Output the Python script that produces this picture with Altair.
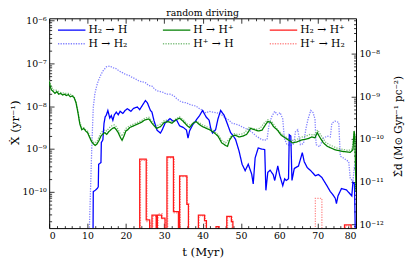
import altair as alt
import pandas as pd

W, H = 313, 214
FONT = "DejaVu Serif"

# legend is filled column by column: (H2->H, H->H2), (H->H+, H+->H), (H2->H+, H+->H2)
SERIES = ["H₂ → H", "H → H₂", "H → H⁺", "H⁺ → H", "H₂ → H⁺", "H⁺ → H₂"]
COLORS = ["#0000ff", "#8080ff", "#007f00", "#80c080", "#ff1a1a", "#ff8c8c"]
DASHES = [[1, 0], [1.3, 1.3], [1, 0], [1.3, 1.3], [1, 0], [1.3, 1.3]]

# time (Myr) and log10 of rate (yr^-1)
h2_h_t = [11.4, 11.5, 12.0, 12.5, 12.8, 12.9, 13.5, 13.6, 14.0, 14.3, 14.6, 14.9, 15.3, 15.8, 16.2, 16.6, 17.0, 17.5,
          18.0, 18.5, 19.2, 19.8, 20.4, 21.3, 22.0, 23.0, 23.6, 24.3, 25.1, 25.6, 26.4, 26.8, 27.3, 28.1, 29.0, 29.5,
          30.2, 30.8, 31.5, 32.4, 33.2, 34.0, 35.0, 35.8, 36.2, 36.6, 37.4, 38.3, 39.2, 40.0, 40.9, 41.7, 42.2, 42.6,
          43.4, 44.0, 44.7, 45.6, 46.4, 47.3, 48.1, 48.6, 49.5, 50.3, 51.1, 51.9, 52.8, 53.2, 53.7, 54.5, 55.3, 56.2,
          56.5, 57.0, 57.6, 58.4, 58.8, 59.6, 60.1, 60.9, 61.4, 61.8, 62.4, 62.6, 63.0, 63.3, 63.9, 65.0, 66.0, 66.5,
          67.3, 68.2, 69.4, 70.2, 71.1, 72.4, 73.3, 74.1, 74.6, 74.9, 75.3, 76.2, 77.5, 78.4, 78.9, 79.2, 79.6, 79.9]
h2_h_e = [-11.5, -10.0, -9.97, -9.93, -9.89, -9.36, -9.32, -8.85, -8.79, -8.40, -8.25, -8.21, -8.10, -8.28, -8.22,
          -8.33, -8.20, -8.14, -8.20, -8.12, -8.17, -8.10, -8.06, -8.12, -8.05, -8.02, -8.08, -7.98, -7.87, -7.92,
          -8.10, -8.14, -8.33, -8.56, -8.63, -8.55, -8.40, -8.35, -8.29, -8.36, -8.32, -8.46, -8.50, -8.56, -8.75,
          -8.58, -8.44, -8.33, -8.22, -8.10, -8.25, -8.33, -8.55, -8.63, -8.55, -8.30, -8.10, -8.21, -8.40, -8.62,
          -8.71, -8.78, -9.05, -9.36, -9.51, -9.36, -9.59, -9.82, -9.21, -8.98, -9.00, -9.02, -9.97, -9.55, -9.50,
          -9.60, -9.74, -9.40, -9.62, -9.86, -9.70, -9.74, -9.70, -8.67, -8.70, -9.74, -9.46, -9.40, -9.09, -9.30,
          -9.44, -9.51, -9.63, -9.60, -9.67, -9.86, -10.0, -10.09, -10.16, -10.28, -10.10, -9.93, -9.96, -10.05,
          -10.10, -9.78, -9.82, -11.5]

h_h2_t = [10.3, 10.6, 10.9, 11.1, 11.3, 11.5, 11.9, 12.4, 12.8, 13.4, 14.0, 14.9, 15.8, 16.6, 17.4, 18.3, 19.2,
          20.0, 20.8, 21.7, 22.5, 23.4, 24.3, 25.1, 26.0, 26.8, 27.5, 28.1, 29.0, 29.8, 30.6, 31.5, 32.4, 33.2, 34.1,
          34.9, 35.8, 36.6, 37.5, 38.3, 39.2, 40.0, 40.9, 41.7, 42.6, 43.5, 44.3, 45.2, 46.0, 46.9, 47.7, 48.6, 49.4,
          50.2, 51.1, 52.0, 53.0, 54.0, 55.0, 56.0, 56.8, 57.3, 58.0, 58.8, 59.5, 60.2, 60.9, 61.3, 62.0, 63.0, 63.8,
          64.2, 64.8, 65.5, 66.3, 67.0, 67.5, 68.2, 68.8, 69.3, 69.6, 70.5, 71.5, 72.5, 73.3, 73.7, 74.5, 75.5, 75.9,
          76.5, 77.3, 78.1, 78.5, 79.2, 79.6, 80.0]
h_h2_e = [-11.5, -10.5, -9.6, -9.0, -8.5, -8.02, -7.72, -7.52, -7.41, -7.28, -7.18, -7.08, -7.06, -7.10, -7.12,
          -7.18, -7.22, -7.26, -7.28, -7.33, -7.36, -7.41, -7.43, -7.45, -7.52, -7.53, -7.60, -7.64, -7.66, -7.68,
          -7.72, -7.72, -7.75, -7.82, -7.88, -7.91, -7.92, -7.96, -7.98, -8.00, -8.06, -8.10, -8.16, -8.12, -8.14,
          -8.15, -8.17, -8.22, -8.28, -8.33, -8.40, -8.42, -8.44, -8.48, -8.52, -8.55, -8.62, -8.70, -8.76, -8.80,
          -8.78, -8.45, -8.25, -8.12, -8.20, -8.15, -8.30, -8.75, -8.90, -8.92, -8.88, -8.60, -8.55, -8.90, -8.88,
          -8.50, -8.30, -8.10, -8.15, -8.30, -8.90, -8.95, -8.75, -8.70, -8.72, -8.40, -8.35, -8.38, -9.17, -9.20,
          -9.25, -9.30, -9.70, -9.75, -9.40, -9.30]

h_hp_t = [0, 0.3, 0.6, 1, 1.5, 2, 2.5, 3, 3.5, 4, 4.5, 5, 5.5, 6, 6.5, 7, 7.5, 8, 8.5, 9, 9.5, 10, 10.5, 11, 11.5,
          12, 12.5, 13, 13.5, 14, 14.5, 15, 15.5, 16, 16.5, 17, 17.5, 18, 18.5, 19, 19.5, 20, 20.5, 21, 22, 23, 24,
          25, 26, 27, 28, 29, 30, 31, 32, 33, 34, 35, 36, 36.6, 37.5, 38.3, 39, 40, 41, 42, 43, 44, 45, 46, 46.5, 47,
          47.7, 48.5, 49.5, 50.5, 51.5, 52.5, 53.5, 54.5, 55.5, 56.5, 57, 57.8, 58.5, 59.5, 60.5, 61.5, 62.5, 63.5,
          64.5, 65.5, 66.5, 67.5, 68.5, 69.3, 69.9, 70.5, 71.5, 72.5, 73.5, 74.5, 75.5, 76.5, 77.5, 78.5, 79.2, 79.5,
          79.7, 80]
h_hp_e = [-7.42, -7.55, -7.62, -7.65, -7.70, -7.66, -7.72, -7.70, -7.74, -7.72, -7.75, -7.73, -7.78, -7.76, -7.80,
          -7.92, -8.15, -8.42, -8.55, -8.52, -8.58, -8.62, -8.72, -8.82, -8.88, -8.92, -8.88, -8.80, -8.70, -8.65,
          -8.62, -8.66, -8.60, -8.56, -8.52, -8.50, -8.55, -8.62, -8.72, -8.80, -8.70, -8.58, -8.55, -8.50, -8.46,
          -8.42, -8.38, -8.32, -8.30, -8.42, -8.52, -8.48, -8.38, -8.36, -8.40, -8.32, -8.28, -8.36, -8.46, -8.50,
          -8.40, -8.36, -8.42, -8.48, -8.52, -8.56, -8.62, -8.70, -8.86, -8.92, -8.94, -8.80, -8.70, -8.68, -8.72,
          -8.70, -8.66, -8.52, -8.55, -8.58, -8.56, -8.42, -8.36, -8.38, -8.48, -8.56, -8.68, -8.74, -8.80, -8.86,
          -8.84, -8.80, -8.78, -8.76, -8.72, -8.74, -8.62, -8.72, -8.86, -8.94, -8.98, -9.02, -9.04, -9.06, -9.07,
          -9.08, -9.02, -8.58, -8.72, -10.0]

hp_h_t = [0, 1, 2, 3, 4, 5, 6, 6.5, 7, 7.5, 8, 8.5, 9, 9.5, 10, 10.5, 11, 11.5, 12, 12.5, 13, 13.5, 14, 14.5, 15,
          15.5, 16, 16.5, 17, 17.5, 18, 18.5, 19, 19.5, 20, 21, 22, 23, 24, 25, 26, 27, 28, 29, 30, 31, 32, 33, 34,
          35, 36, 37, 38, 39, 40, 41, 42, 43, 44, 45, 46, 47, 48, 49, 50, 51, 52, 53, 54, 55, 56, 57, 58, 59, 60, 61,
          62, 63, 64, 65, 66, 67, 68, 69, 70, 71, 72, 73, 74, 75, 76, 77, 78, 79, 79.5, 80]
hp_h_e = [-7.40, -7.62, -7.63, -7.68, -7.70, -7.70, -7.74, -7.78, -7.90, -8.12, -8.38, -8.50, -8.50, -8.55, -8.58,
          -8.68, -8.78, -8.84, -8.86, -8.82, -8.72, -8.62, -8.58, -8.55, -8.58, -8.52, -8.48, -8.45, -8.44, -8.48,
          -8.55, -8.64, -8.70, -8.62, -8.52, -8.46, -8.42, -8.38, -8.34, -8.28, -8.26, -8.38, -8.46, -8.42, -8.34,
          -8.32, -8.36, -8.30, -8.25, -8.32, -8.42, -8.44, -8.35, -8.38, -8.44, -8.48, -8.52, -8.58, -8.66, -8.80,
          -8.86, -8.76, -8.64, -8.66, -8.66, -8.62, -8.50, -8.52, -8.54, -8.52, -8.40, -8.32, -8.36, -8.48, -8.60,
          -8.68, -8.74, -8.80, -8.80, -8.76, -8.72, -8.70, -8.66, -8.68, -8.56, -8.70, -8.84, -8.90, -8.94, -8.98,
          -9.00, -9.02, -9.04, -9.00, -8.60, -8.80]

h2_hp_t = [23.6, 23.6, 25.3, 25.3, 26.2, 26.2, 26.8, 26.8, 27.9, 27.9, 28.2, 28.2, 29.3, 29.3, 30.2, 30.2, 30.7,
           30.7, 32.4, 32.4, 33.7, 33.7, 34.0, 34.0, 35.9, 35.9, 36.3, 36.3, 38.9, 38.9, 40.5, 40.5, 41.0, 41.0, 43.5,
           43.5, 44.3, 44.3, 46.3, 46.3, 47.5, 47.5, 47.9, 47.9, 77.0, 77.0, 78.7, 78.7]
h2_hp_e = [-12, -9.24, -9.24, -10.66, -10.66, -12, -12, -10.55, -10.55, -12, -12, -10.55, -10.55, -10.62, -10.62,
           -12, -12, -9.19, -9.19, -10.47, -10.47, -12, -12, -9.63, -9.63, -10.30, -10.30, -12, -12, -10.55, -10.55,
           -10.68, -10.68, -12, -12, -10.82, -10.82, -12, -12, -10.58, -10.58, -10.70, -10.70, -12, -12, -10.78,
           -10.78, -12]

hp_h2_t = [23.8, 23.8, 25.5, 25.5, 26.4, 26.4, 27.0, 27.0, 28.0, 28.0, 28.4, 28.4, 29.5, 29.5, 30.4, 30.4, 30.9,
           30.9, 32.6, 32.6, 33.9, 33.9, 34.2, 34.2, 36.0, 36.0, 36.4, 36.4, 39.1, 39.1, 40.7, 40.7, 46.5, 46.5, 47.7,
           47.7, 69.4, 69.4, 71.1, 71.1, 77.2, 77.2, 78.9, 78.9]
hp_h2_e = [-12, -9.27, -9.27, -10.70, -10.70, -12, -12, -10.58, -10.58, -12, -12, -10.52, -10.52, -10.64, -10.64,
           -12, -12, -9.21, -9.21, -10.50, -10.50, -12, -12, -9.65, -9.65, -10.28, -10.28, -12, -12, -10.57, -10.57,
           -12, -12, -10.60, -10.60, -12, -12, -10.16, -10.16, -12, -12, -10.80, -10.80, -12]

x_major = [0, 10, 20, 30, 40, 50, 60, 70, 80]
left_major_exp = [-6, -7, -8, -9, -10]
right_major_exp = [-8, -9, -10, -11, -12]
left_dom_exp = [-10.855, -5.943]
right_dom_exp = [-12.09, -7.172]

series_data = [
    ("H → H₂", h_h2_t, h_h2_e),
    ("H⁺ → H", hp_h_t, hp_h_e),
    ("H⁺ → H₂", hp_h2_t, hp_h2_e),
    ("H₂ → H", h2_h_t, h2_h_e),
    ("H → H⁺", h_hp_t, h_hp_e),
    ("H₂ → H⁺", h2_hp_t, h2_hp_e),
]
rows = []
for name, ts, es in series_data:
    for i, (t, e) in enumerate(zip(ts, es)):
        rows.append({"t": t, "v": 10.0 ** e, "series": name, "i": i})
df = pd.DataFrame(rows)

SUP = str.maketrans("-0123456789", "⁻⁰¹²³⁴⁵⁶⁷⁸⁹")


def label_expr(exps):
    expr = "''"
    for e in exps:
        expr = f"abs(log(datum.value)/LN10 - ({e})) < 0.01 ? '10{str(e).translate(SUP)}' : " + expr
    return expr


x_minor = [v for v in range(2, 80, 2) if v % 10]


def log_minor(lo, hi):
    out = []
    for n in range(-14, -4):
        for k in range(2, 10):
            v = k * 10.0 ** n
            if 10 ** lo < v < 10 ** hi:
                out.append(v)
    return out


xs = alt.Scale(domain=[0, 80], nice=False, zero=False)
ys_l = alt.Scale(type="log", domain=[10 ** left_dom_exp[0], 10 ** left_dom_exp[1]], nice=False)
ys_r = alt.Scale(type="log", domain=[10 ** right_dom_exp[0], 10 ** right_dom_exp[1]], nice=False)

leg = alt.Legend(orient="none", legendX=15, legendY=4, columns=3, title=None, symbolType="M-2,0H2",
                 symbolSize=196, symbolStrokeWidth=1.4, labelFont=FONT, labelFontSize=11, labelColor="black",
                 columnPadding=33, rowPadding=1, labelOffset=9, padding=0)

lines = alt.Chart(df).mark_line(clip=True, strokeWidth=1.3).encode(
    x=alt.X("t:Q", scale=xs, axis=alt.Axis(title="t (Myr)", values=x_major, ticks=False, domain=False, grid=False,
                                            labelPadding=3, titlePadding=6)),
    y=alt.Y("v:Q", scale=ys_l, axis=alt.Axis(title="Ẋ (yr⁻¹)", values=[10.0 ** e for e in left_major_exp],
                                             labelExpr=label_expr(left_major_exp), ticks=False, domain=False,
                                             grid=False, labelPadding=3, titleX=-31.5, titleY=H / 2 - 1,
                                             titleBaseline="alphabetic")),
    color=alt.Color("series:N", scale=alt.Scale(domain=SERIES, range=COLORS), legend=leg),
    strokeDash=alt.StrokeDash("series:N", scale=alt.Scale(domain=SERIES, range=DASHES), legend=leg),
    order="i:Q",
)

dummy = pd.DataFrame({"t": [0, 80], "v": [1e-10, 1e-10]})


def tick_layer(xvals, xorient, yvals, yorient, ys, size):
    return alt.Chart(dummy).mark_point(opacity=0).encode(
        x=alt.X("t:Q", scale=xs, axis=alt.Axis(orient=xorient, offset=-H, values=xvals, labels=False, domain=False,
                                                grid=False, ticks=True, tickSize=size, tickColor="black",
                                                tickWidth=0.8, title=None)),
        y=alt.Y("v:Q", scale=ys, axis=alt.Axis(orient=yorient, offset=-W, values=yvals, labels=False, domain=False,
                                                grid=False, ticks=True, tickSize=size, tickColor="black",
                                                tickWidth=0.8, title=None)),
    )


t1 = tick_layer(x_major, "top", [10.0 ** e for e in left_major_exp], "right", ys_l, 5)
t2 = tick_layer(x_minor, "top", log_minor(*left_dom_exp), "right", ys_l, 2.5)
t3 = tick_layer(x_major, "bottom", [10.0 ** e for e in right_major_exp], "left", ys_r, 5)
t4 = tick_layer(x_minor, "bottom", log_minor(*right_dom_exp), "left", ys_r, 2.5)

right = alt.Chart(dummy).mark_point(opacity=0).encode(
    x=alt.X("t:Q", scale=xs, axis=None),
    y=alt.Y("v:Q", scale=ys_r, axis=alt.Axis(orient="right", title="Σ̇d (M⊙ Gyr⁻¹ pc⁻²)",
                                             values=[10.0 ** e for e in right_major_exp],
                                             labelExpr=label_expr(right_major_exp), ticks=False, domain=False,
                                             grid=False, labelPadding=3, titleAngle=270, titleX=46,
                                             titleY=H / 2 + 3, titleBaseline="alphabetic", titleFontSize=10.5)),
)

chart = alt.layer(lines, t1, t2, t3, t4, right).resolve_scale(y="independent").resolve_axis(
    x="independent", y="independent"
).properties(
    width=W, height=H,
    title=alt.TitleParams("random driving", font=FONT, fontSize=9.5, fontWeight="normal", anchor="middle",
                          offset=1, baseline="alphabetic", color="black", frame="group", dy=11),
    autosize=alt.AutoSizeParams(type="none"),
    padding={"left": 42, "top": 8, "right": 52, "bottom": 30},
).configure_view(stroke="black", strokeWidth=1).configure_axis(
    labelFont=FONT, titleFont=FONT, labelFontSize=9.5, titleFontSize=12, titleFontWeight="normal",
    labelColor="black", titleColor="black"
)

chart.save("out.html", embed_options={"renderer": "svg", "actions": False})
